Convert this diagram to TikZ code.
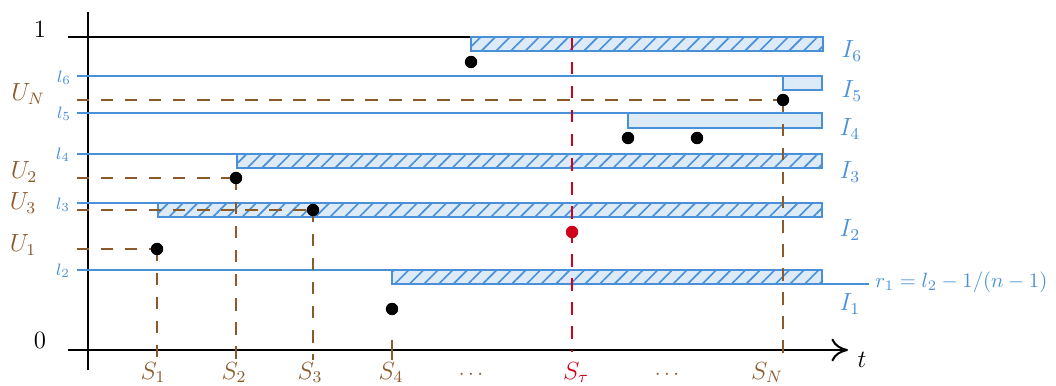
\documentclass[tikz,border=0pt]{standalone}
\usetikzlibrary{patterns.meta,arrows.meta}
\definecolor{myblue}{HTML}{4A90D9}
\definecolor{lblue}{HTML}{DDEAF7}
\definecolor{mybrown}{HTML}{8B5A2B}
\definecolor{myred}{HTML}{D0021B}
\tikzset{
  axisline/.style={line width=1pt, black},
  lvl/.style={line width=1pt, myblue},
  ibox/.style={line width=1.3pt, draw=myblue, fill=lblue},
  hbox/.style={ibox, postaction={pattern={Lines[angle=45,distance=5pt,line width=0.8pt]}, pattern color=myblue}},
  udash/.style={line width=1pt, mybrown, dash pattern=on 6pt off 5.6pt},
  rdash/.style={line width=1pt, myred, dash pattern=on 6pt off 5.6pt},
  dot/.style={circle, fill=black, inner sep=0pt, minimum size=6pt},
  lab/.style={inner sep=0pt},
  llab/.style={lab, text=myblue, font=\footnotesize},
  ulab/.style={lab, text=mybrown, font=\large},
  ilab/.style={lab, text=myblue, font=\large},
  slab/.style={lab, text=mybrown, font=\large, anchor=base},
}
\begin{document}
\begin{tikzpicture}[x=0.483pt,y=-0.483pt]
\useasboundingbox (0,0) rectangle (1056,386);
% axes
\coordinate (yb) at (88,370); \coordinate (yt) at (88,12);
\coordinate (xl) at (68,350); \coordinate (xr) at (848,350);
\draw[axisline] (yb) -- (yt);
\draw[axisline, -{To[length=8pt,width=11pt]}] (xl) -- (xr);
\node[lab, font=\large] (t) at (862,360) {$t$};
\node[lab, font=\large] (one) at (40,29) {$1$};
\node[lab, font=\large] (zero) at (40,340) {$0$};
% top line and I6
\coordinate (tl) at (68,37); \coordinate (i6a) at (471,37); \coordinate (i6b) at (823,51);
\draw[axisline] (tl) -- (i6a);
\draw[hbox] (i6a) rectangle (i6b);
% l6, I5
\coordinate (l6a) at (77,76); \coordinate (i5a) at (783,76); \coordinate (i5b) at (822,90);
\draw[lvl] (l6a) -- (i5a);
\draw[ibox] (i5a) rectangle (i5b);
% l5, I4
\coordinate (l5a) at (77,113); \coordinate (i4a) at (628,113); \coordinate (i4b) at (822,128);
\draw[lvl] (l5a) -- (i4a);
\draw[ibox] (i4a) rectangle (i4b);
% l4, I3
\coordinate (l4a) at (77,154); \coordinate (i3a) at (237,154); \coordinate (i3b) at (822,168);
\draw[lvl] (l4a) -- (i3a);
\draw[hbox] (i3a) rectangle (i3b);
% l3, I2
\coordinate (l3a) at (77,203); \coordinate (i2a) at (158,203); \coordinate (i2b) at (822,217);
\draw[lvl] (l3a) -- (i2a);
\draw[hbox] (i2a) rectangle (i2b);
% l2, I1
\coordinate (l2a) at (77,270); \coordinate (i1a) at (392,270); \coordinate (i1b) at (822,284);
\draw[lvl] (l2a) -- (i1a);
\draw[hbox] (i1a) rectangle (i1b);
\coordinate (r1e) at (869,284);
\draw[line width=0.8pt, myblue] (i1b) -- (r1e);
\node[lab, text=myblue, anchor=base west] (r1) at (875,287) {$r_1 = l_2 - 1/(n-1)$};
% sample points
\coordinate (c1) at (157,249); \coordinate (c2) at (236,178); \coordinate (c3) at (313,210);
\coordinate (c4) at (392,309); \coordinate (c5) at (471,62); \coordinate (c6) at (628,138);
\coordinate (c7) at (697,138); \coordinate (cN) at (783,100); \coordinate (ct) at (572,232);
\coordinate (u1) at (77,249); \coordinate (u2) at (77,178); \coordinate (u3) at (77,210); \coordinate (uN) at (77,100);
\coordinate (b1) at (157,360); \coordinate (b2) at (236,360); \coordinate (b3) at (313,360); \coordinate (bN) at (783,360);
\coordinate (t4a) at (392,340); \coordinate (t4b) at (392,360);
\coordinate (rt) at (572,38); \coordinate (rb) at (572,352);
\draw[udash] (u1) -- (c1); \draw[udash] (u2) -- (c2); \draw[udash] (u3) -- (c3); \draw[udash] (uN) -- (cN);
\draw[udash] (c1) -- (b1); \draw[udash] (c2) -- (b2); \draw[udash] (c3) -- (b3); \draw[udash] (cN) -- (bN);
\draw[line width=1pt, mybrown] (t4a) -- (t4b);
\draw[rdash] (rt) -- (rb);
\node[dot] (p1) at (c1) {}; \node[dot] (p2) at (c2) {}; \node[dot] (p3) at (c3) {};
\node[dot] (p4) at (c4) {}; \node[dot] (p5) at (c5) {}; \node[dot] (p6) at (c6) {};
\node[dot] (p7) at (c7) {}; \node[dot] (pN) at (cN) {}; \node[dot, fill=myred] (pt) at (ct) {};
% left labels
\node[ulab] (UN) at (28,94) {$U_N$};
\node[ulab] (U2) at (24,172) {$U_2$};
\node[ulab] (U3) at (23,203) {$U_3$};
\node[ulab] (U1) at (23,245) {$U_1$};
\node[llab] (L6) at (64,78) {$l_6$};
\node[llab] (L5) at (64,114) {$l_5$};
\node[llab] (L4) at (63,155) {$l_4$};
\node[llab] (L3) at (63,205) {$l_3$};
\node[llab] (L2) at (63,271) {$l_2$};
% right labels
\node[ilab] (I6) at (852,51) {$I_6$};
\node[ilab] (I5) at (852,91) {$I_5$};
\node[ilab] (I4) at (850,129) {$I_4$};
\node[ilab] (I3) at (850,172) {$I_3$};
\node[ilab] (I2) at (850,230) {$I_2$};
\node[ilab] (I1) at (850,304) {$I_1$};
% bottom labels
\node[slab] (S1) at (153,379) {$S_1$};
\node[slab] (S2) at (234,379) {$S_2$};
\node[slab] (S3) at (310,379) {$S_3$};
\node[slab] (S4) at (391,379) {$S_4$};
\node[lab, text=mybrown, anchor=base] (d1) at (471,379) {$\cdots$};
\node[slab, text=myred] (St) at (576,379) {$S_\tau$};
\node[lab, text=mybrown, anchor=base] (d2) at (667,379) {$\cdots$};
\node[slab] (SN) at (767,379) {$S_N$};
\end{tikzpicture}
\end{document}
